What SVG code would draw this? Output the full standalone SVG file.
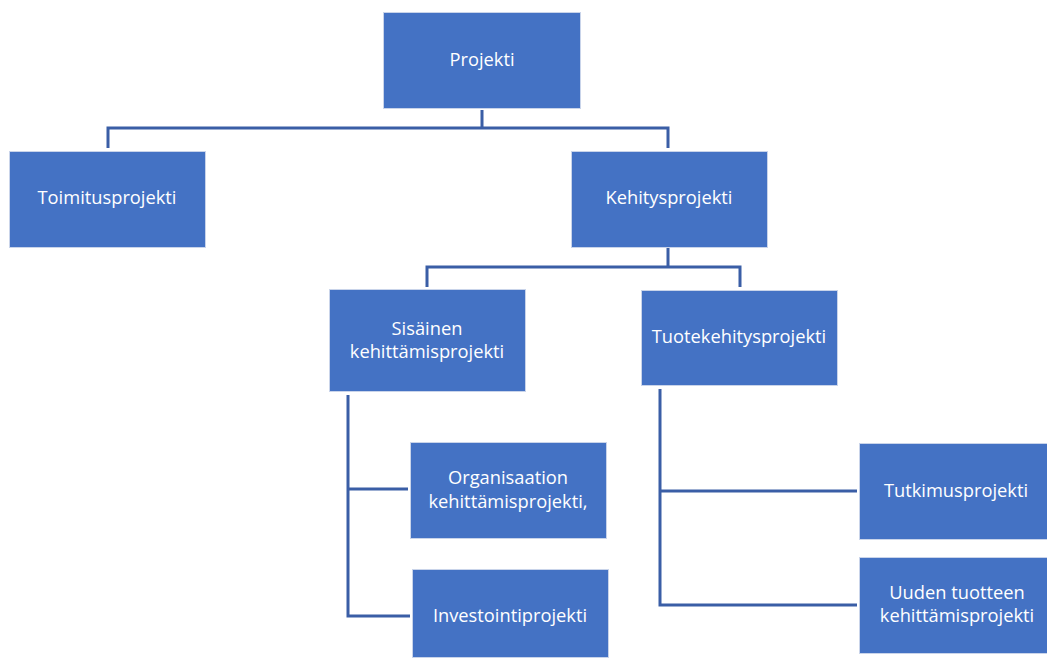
<svg xmlns="http://www.w3.org/2000/svg" width="1047" height="658" viewBox="0 0 1047 658">
  <style>
    .box { fill: #4472C4; stroke: #C9D4EA; stroke-width: 1; }
    .lbl { fill: #FFFFFF; font-family: "Open Sans", "Noto Sans", "Liberation Sans", sans-serif; font-size: 18.3px; text-anchor: middle; dominant-baseline: central; }
    .link { fill: none; stroke: #3A5EA6; stroke-width: 3; stroke-linejoin: miter; stroke-linecap: butt; }
  </style>
  <rect width="1047" height="658" fill="#FFFFFF"/>

  <!-- tree connectors -->
  <g id="connectors">
    <path class="link" d="M482,110 V128 M108,148 V128 H668 V148"/>
    <path class="link" d="M668,248 V267 M427,287 V267 H740 V287"/>
    <path class="link" d="M348,395 V616 H410 M348,489 H408"/>
    <path class="link" d="M660,389 V605 H857 M660,491 H857"/>
  </g>

  <g id="projekti">
    <rect class="box" x="383.5" y="12.5" width="197" height="96"/>
    <text class="lbl" x="482" y="58.5">Projekti</text>
  </g>
  <g id="toimitusprojekti">
    <rect class="box" x="9.5" y="151.5" width="196" height="96"/>
    <text class="lbl" x="107" y="196.5">Toimitusprojekti</text>
  </g>
  <g id="kehitysprojekti">
    <rect class="box" x="571.5" y="151.5" width="196" height="96"/>
    <text class="lbl" x="669" y="196.5">Kehitysprojekti</text>
  </g>
  <g id="sisainen">
    <rect class="box" x="329.5" y="289.5" width="196" height="102"/>
    <text class="lbl" x="427" y="327.5">Sisäinen</text>
    <text class="lbl" x="427" y="350.5">kehittämisprojekti</text>
  </g>
  <g id="tuotekehitysprojekti">
    <rect class="box" x="641.5" y="290.5" width="196" height="95"/>
    <text class="lbl" x="739" y="335.5">Tuotekehitysprojekti</text>
  </g>
  <g id="organisaation">
    <rect class="box" x="410.5" y="442.5" width="196" height="96"/>
    <text class="lbl" x="508" y="476.5">Organisaation</text>
    <text class="lbl" x="508" y="500.5">kehittämisprojekti,</text>
  </g>
  <g id="investointiprojekti">
    <rect class="box" x="412.5" y="569.5" width="196" height="88"/>
    <text class="lbl" x="510" y="614.5">Investointiprojekti</text>
  </g>
  <g id="tutkimusprojekti">
    <rect class="box" x="859.5" y="443.5" width="190" height="96"/>
    <text class="lbl" x="956" y="489.5">Tutkimusprojekti</text>
  </g>
  <g id="uuden-tuotteen">
    <rect class="box" x="859.5" y="557.5" width="190" height="96"/>
    <text class="lbl" x="957" y="591.5">Uuden tuotteen</text>
    <text class="lbl" x="957" y="614.5">kehittämisprojekti</text>
  </g>
</svg>
